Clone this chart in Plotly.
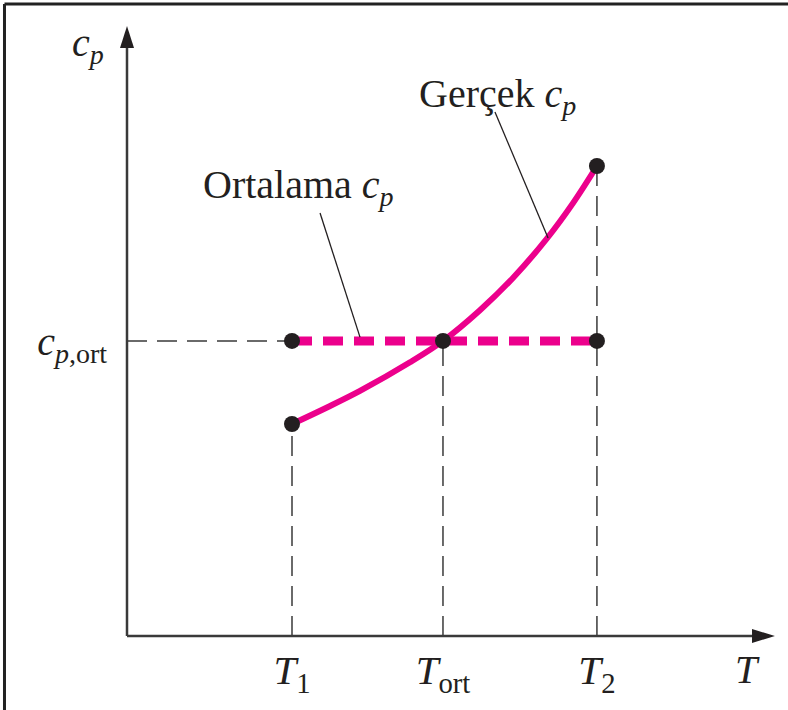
import plotly.graph_objects as go

# Temperatures (arbitrary units) and specific heats along the axes
T1, T_ort, T2 = 1.0, 1.915, 2.848
cp_T1, cp_ort, cp_T2 = 1.0, 1.392, 2.217

# Actual (temperature dependent) c_p curve, read along its length
curve_T = [1.0, 1.212, 1.412, 1.715, 1.915, 2.139, 2.339, 2.545, 2.703, 2.848]
curve_cp = [1.0, 1.078, 1.156, 1.291, 1.392, 1.537, 1.689, 1.875, 2.042, 2.217]

x_tick_vals = [T1, T_ort, T2]
x_tick_text = ["<i>T</i><sub>1</sub>", "<i>T</i><sub>ort</sub>", "<i>T</i><sub>2</sub>"]
y_tick_vals = [cp_ort]
y_tick_text = ["<i>c</i><sub><i>p</i>,ort</sub>"]

INK = "#231f20"
AXIS = "#3a3a3a"
MAGENTA = "#EC008C"
SERIF = "Liberation Serif, Times New Roman, serif"

fig = go.Figure()

# guide lines (thin, dashed)
guide = dict(color=AXIS, width=1.5, dash="20px,10px")
fig.add_trace(go.Scatter(x=[0, T1], y=[cp_ort, cp_ort], mode="lines", line=guide, hoverinfo="skip"))
fig.add_trace(go.Scatter(x=[T1, T1], y=[0, cp_T1], mode="lines", line=guide, hoverinfo="skip"))
fig.add_trace(go.Scatter(x=[T_ort, T_ort], y=[0, cp_ort], mode="lines", line=guide, hoverinfo="skip"))
fig.add_trace(go.Scatter(x=[T2, T2], y=[0, cp_T2], mode="lines", line=guide, hoverinfo="skip"))

# average c_p (thick dashed)
fig.add_trace(go.Scatter(x=[T1, T2], y=[cp_ort, cp_ort], mode="lines",
                         line=dict(color=MAGENTA, width=9, dash="20px,11px"), hoverinfo="skip"))
# actual c_p curve
fig.add_trace(go.Scatter(x=curve_T, y=curve_cp, mode="lines",
                         line=dict(color=MAGENTA, width=6, shape="spline", smoothing=1.0),
                         hoverinfo="skip"))

# leader lines of the two labels
lead = dict(color=INK, width=1.3)
fig.add_trace(go.Scatter(x=[2.230, 2.552], y=[2.472, 1.877], mode="lines", line=lead, hoverinfo="skip"))
fig.add_trace(go.Scatter(x=[1.170, 1.412], y=[1.995, 1.410], mode="lines", line=lead, hoverinfo="skip"))

# key points
fig.add_trace(go.Scatter(x=[T1, T_ort, T2, T1, T2], y=[cp_ort, cp_ort, cp_ort, cp_T1, cp_T2],
                         mode="markers", marker=dict(color=INK, size=16), hoverinfo="skip"))

# axes with arrowheads
fig.add_shape(type="line", x0=0, y0=0, x1=0, y1=2.80, line=dict(color=AXIS, width=2.5))
fig.add_shape(type="line", x0=0, y0=0, x1=3.80, y1=0, line=dict(color=AXIS, width=2.5))
fig.add_shape(type="path", path="M 0 2.877 L -0.0424 2.774 L 0.0424 2.774 Z",
              fillcolor=INK, line=dict(width=0))
fig.add_shape(type="path", path="M 3.927 0 L 3.788 0.033 L 3.788 -0.033 Z",
              fillcolor=INK, line=dict(width=0))

# frame
fig.add_shape(type="line", xref="paper", yref="paper", x0=0.0057, y0=-0.01, x1=0.0057, y1=0.9944,
              line=dict(color="#222", width=3))
fig.add_shape(type="line", xref="paper", yref="paper", x0=0.0057, y0=0.9944, x1=1.01, y1=0.9944,
              line=dict(color="#222", width=3))

txt = dict(family=SERIF, size=40, color=INK)
fig.add_annotation(x=-0.236, y=2.79, text="<i>c</i><sub><i>p</i></sub>", showarrow=False, font=txt)
fig.add_annotation(x=3.76, y=-0.16, text="<i>T</i>", showarrow=False, font=txt)
fig.add_annotation(x=1.758, y=2.545, text="Gerçek <i>c</i><sub><i>p</i></sub>", showarrow=False,
                   font=txt, xanchor="left")
fig.add_annotation(x=0.448, y=2.120, text="Ortalama <i>c</i><sub><i>p</i></sub>", showarrow=False,
                   font=txt, xanchor="left")

fig.update_layout(
    width=788, height=710,
    margin=dict(l=0, r=0, t=0, b=0),
    paper_bgcolor="white", plot_bgcolor="white",
    showlegend=False,
    xaxis=dict(range=[-0.7697, 4.006], showgrid=False, zeroline=False, showline=False,
               tickvals=x_tick_vals, ticktext=x_tick_text, ticks="", anchor="free",
               position=0.10423, ticklabelstandoff=6,
               tickfont=dict(family=SERIF, size=41, color=INK), fixedrange=True),
    yaxis=dict(range=[-0.349, 3.0], showgrid=False, zeroline=False, showline=False,
               tickvals=y_tick_vals, ticktext=y_tick_text, ticks="", anchor="free",
               position=0.16117, ticklabelstandoff=20,
               tickfont=dict(family=SERIF, size=40, color=INK), fixedrange=True),
)

fig.write_html("out.html")
